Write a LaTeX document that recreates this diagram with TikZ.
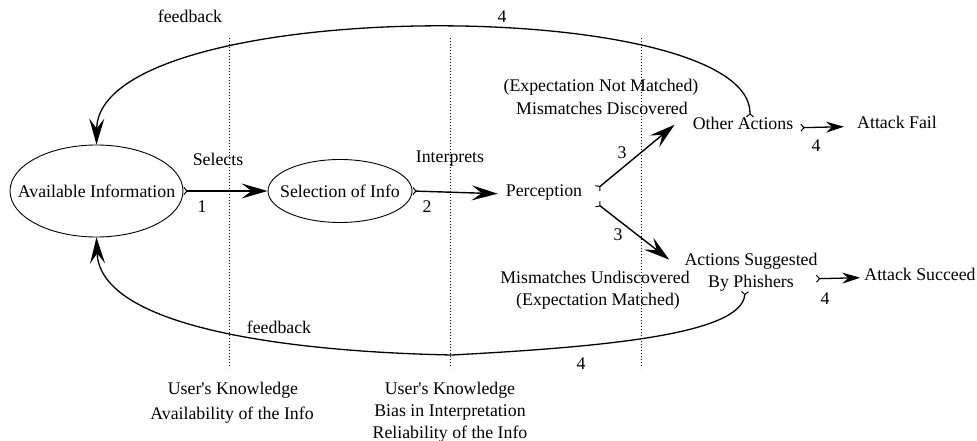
\documentclass[tikz,border=0pt]{standalone}
\usepackage{fontspec}
\setmainfont{Liberation Serif}
\usetikzlibrary{arrows.meta,shapes.geometric}
\begin{document}
\begin{tikzpicture}[x=1pt,y=-1pt,
  every node/.style={font=\fontsize{17.8}{21}\selectfont, inner sep=0pt},
  txt/.style={anchor=base},
  oval/.style={ellipse, draw, line width=0.9pt},
  Tl/.tip={Straight Barb[reversed,length=3pt,width=7pt,line width=1pt]},
  bigarrow/.style={line width=1.4pt, Tl-{Stealth[length=26pt,width=15pt,inset=10pt]}},
  smallarrow/.style={line width=1.3pt, Tl-{Stealth[length=18pt,width=11pt,inset=6pt]}},
  fb/.style={line width=1.3pt, Tl-{Stealth[length=26pt,width=15pt,inset=10pt]}},
  sep/.style={line width=1pt, dash pattern=on 1pt off 2pt}
]
\useasboundingbox (0,0) rectangle (977,441);

% separators
\draw[sep] (229,38) -- (229,368);
\draw[sep] (450,38) -- (450,368);
\draw[sep] (641,38) -- (641,368);

% main nodes
\node[oval, minimum width=173pt, minimum height=92pt] (ai) at (96.5,191) {};
\node at (ai) {Available Information};
\node[oval, minimum width=144pt, minimum height=63pt] (sel) at (340,191) {};
\node at (sel) {Selection of Info};
\node[txt] (per) at (544,196) {Perception};
\node[txt] (oa) at (743,130) {Other Actions};
\node[txt] (af) at (897,129) {Attack Fail};
\node[txt] (asg) at (751,265) {Actions Suggested};
\node[txt] (byp) at (751,287) {By Phishers};
\node[txt] (succ) at (920,280) {Attack Succeed};

% texts
\node[txt] (selects) at (218,165) {Selects};
\node[txt] (n1) at (202,212) {1};
\node[txt] (interp) at (450,162) {Interprets};
\node[txt] (n2) at (427,212) {2};
\node[txt] (enm) at (601,92) {(Expectation Not Matched)};
\node[txt] (md) at (602,115) {Mismatches Discovered};
\node[txt] (mu) at (595,283) {Mismatches Undiscovered};
\node[txt] (em) at (598,305) {(Expectation Matched)};
\node[txt] (n3a) at (622,158) {3};
\node[txt] (n3b) at (618,240) {3};
\node[txt] (n4a) at (816,151) {4};
\node[txt] (n4b) at (825,304) {4};
\node[txt] (fbt) at (190,23) {feedback};
\node[txt] (n4t) at (502,23) {4};
\node[txt] (fbb) at (279,333) {feedback};
\node[txt] (n4bb) at (581,369) {4};
\node[txt] (uk1) at (233,394) {User\textquotesingle s Knowledge};
\node[txt] (av) at (232,419) {Availability of the Info};
\node[txt] (uk2) at (450,394) {User\textquotesingle s Knowledge};
\node[txt] (bias) at (450,416) {Bias in Interpretation};
\node[txt] (rel) at (450,438) {Reliability of the Info};

% connectors
\draw[bigarrow] (ai.east) -- (sel.west);
\draw[bigarrow] (sel.east) -- ([xshift=-8pt]per.mid west);
\draw[bigarrow] ([xshift=15pt,yshift=5pt]per.mid east) -- ([xshift=-18pt,yshift=3pt]oa.mid west);
\draw[bigarrow] ([xshift=15pt,yshift=-10pt]per.mid east) -- ([xshift=-15pt,yshift=3pt]asg.mid west);
\draw[smallarrow] ([xshift=7pt]oa.mid east) -- ([xshift=-13pt]af.mid west);
\draw[smallarrow] ([xshift=22pt,yshift=6pt]byp.mid east) -- ([xshift=-4pt]succ.mid west);

% feedback curves
\draw[fb] ([xshift=7pt]oa.north) .. controls (752,-6) and (98,-6) .. (ai.north);
\draw[fb] ([xshift=-6pt]byp.south) .. controls (742,335) and (600,347) .. (452,355)
  .. controls (300,352) and (100,330) .. (ai.south);
\end{tikzpicture}
\end{document}
